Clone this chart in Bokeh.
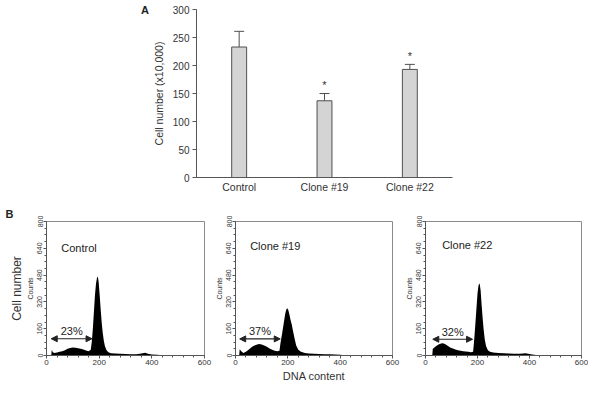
from bokeh.plotting import figure
from bokeh.layouts import column, row
from bokeh.models import (FactorRange, Range1d, LinearAxis, FixedTicker, Label, Arrow, Div, Title,
                          NormalHead, TeeHead, ColumnDataSource, Whisker)
from bokeh.embed import file_html
from bokeh.resources import INLINE
from bokeh.core.properties import value

FONT = "Liberation Sans"

# ---------------- Panel A data ----------------
groups = ["Control", "Clone #19", "Clone #22"]
cell_mean = [233, 137, 193]
cell_err = [28, 13, 9]
significant = [False, True, True]
a_ticks = [0, 50, 100, 150, 200, 250, 300]

# ---------------- Panel B data ----------------
ctrl_dna = [18, 20, 24, 30, 40, 50, 60, 70, 80, 90, 100, 110, 120, 130, 140, 150, 160, 168, 172,
            176, 180, 184, 188, 192, 195, 198, 202, 206, 210, 214, 218, 222, 228, 235, 245, 260,
            280, 300, 320, 340, 355, 365, 375, 385, 400, 420, 440, 450]
ctrl_counts = [0, 35, 20, 15, 18, 22, 26, 32, 40, 45, 48, 46, 44, 40, 36, 30, 26, 35, 80,
               160, 260, 360, 430, 465, 470, 440, 360, 270, 190, 130, 85, 55, 32, 20, 14, 12,
               10, 9, 8, 8, 10, 14, 16, 10, 6, 4, 2, 0]

c19_dna = [14, 16, 22, 30, 40, 50, 60, 70, 80, 90, 100, 110, 120, 130, 140, 150, 160, 168, 172,
           178, 184, 190, 194, 198, 202, 206, 210, 215, 220, 226, 232, 240, 250, 265, 280, 300,
           320, 340, 360, 380, 400, 420, 440]
c19_counts = [0, 38, 25, 15, 22, 35, 48, 58, 64, 68, 66, 60, 52, 42, 34, 28, 25, 28, 75,
              130, 190, 250, 275, 282, 270, 245, 215, 185, 145, 100, 60, 35, 22, 15, 12, 10,
              9, 8, 8, 6, 4, 2, 0]

c22_dna = [26, 28, 32, 40, 50, 60, 66, 75, 85, 95, 105, 115, 125, 135, 145, 155, 165, 175, 183,
           186, 190, 195, 200, 204, 208, 212, 216, 220, 224, 228, 233, 240, 248, 260, 280, 300,
           320, 340, 360, 375, 385, 395, 410, 425, 440, 445]
c22_counts = [0, 40, 45, 55, 65, 72, 73, 68, 58, 48, 42, 36, 32, 28, 26, 24, 22, 20, 22,
              70, 150, 260, 370, 420, 431, 390, 300, 220, 150, 95, 55, 32, 22, 18, 15, 14,
              12, 11, 10, 12, 14, 11, 6, 3, 1, 0]

sample_names = ["Control", "Clone #19", "Clone #22"]
subg1_pct = ["23%", "37%", "32%"]
arrow_start = [18, 16, 28]
arrow_end = [173, 171, 181]
arrow_level = [100, 99, 97]
name_x = [56, 56, 64]
name_y = [643, 653, 657]
hist_xticks = [0, 200, 400, 600]
hist_yticks = [0, 160, 320, 480, 640, 800]

AX = "#555555"
TXT = "#333333"

# ---------------- Panel A ----------------
top = figure(x_range=FactorRange(*groups, range_padding=0), y_range=Range1d(0, 300),
             width=439, height=195, output_backend="svg", toolbar_location=None,
             min_border_left=46, min_border_right=136, min_border_top=9, min_border_bottom=15)
top.outline_line_color = None
top.grid.grid_line_color = None
src = ColumnDataSource(dict(g=groups, m=cell_mean,
                            up=[m + e for m, e in zip(cell_mean, cell_err)]))
top.vbar(x="g", top="m", width=0.175, source=src, fill_color="#d4d4d4",
         line_color="#505050", line_width=1)
top.add_layout(Whisker(source=src, base="g", lower="m", upper="up", lower_head=None,
                       upper_head=TeeHead(size=10, line_color="#505050", line_width=1),
                       line_color="#505050", line_width=1, level="underlay"))
star_g = [g for g, s in zip(groups, significant) if s]
star_y = [m + e + 4 for m, e, s in zip(cell_mean, cell_err, significant) if s]
top.text(x=star_g, y=star_y, text=["*"] * len(star_g), text_align="center",
         text_baseline="bottom", text_font=value(FONT), text_font_size="11px",
         text_color=TXT)
top.yaxis.ticker = FixedTicker(ticks=a_ticks, minor_ticks=[])
top.yaxis.axis_label = "Cell number (x10,000)"
top.yaxis.axis_label_text_font_style = "normal"
top.yaxis.axis_label_text_font = FONT
top.yaxis.axis_label_text_font_size = "10.5px"
top.yaxis.axis_label_text_color = TXT
top.yaxis.axis_label_standoff = 5
top.yaxis.major_tick_out = 4
top.yaxis.major_tick_in = 0
top.yaxis.major_label_standoff = 3
for ax in (top.xaxis[0], top.yaxis[0]):
    ax.axis_line_color = AX
    ax.major_tick_line_color = AX
    ax.major_label_text_font = FONT
    ax.major_label_text_font_size = "10px"
    ax.major_label_text_color = TXT
top.xaxis.major_label_text_font_size = "10.5px"
top.xaxis.major_tick_out = 0
top.xaxis.major_tick_in = 0
top.xaxis.major_label_standoff = 3

label_a = Div(text='<div style="margin-top:3px">A</div>', width=149, height=195, margin=0,
              styles={"font-family": FONT, "font-size": "11px", "font-weight": "bold",
                      "color": "#222", "text-align": "right"})


# ---------------- Panel B ----------------
def hist(i, dna, counts, width, left, right, first=False, mid=False):
    p = figure(x_range=Range1d(0, 600), y_range=Range1d(0, 800), width=width, height=189,
               output_backend="svg", toolbar_location=None,
               min_border_left=left, min_border_right=right, min_border_top=26,
               min_border_bottom=27)
    p.grid.grid_line_color = None
    p.outline_line_color = "#8a8a8a"
    p.varea(x=dna, y1=[0] * len(dna), y2=counts, fill_color="black")
    p.xaxis.ticker = FixedTicker(ticks=hist_xticks, minor_ticks=list(range(0, 601, 40)))
    p.yaxis.ticker = FixedTicker(ticks=hist_yticks, minor_ticks=list(range(0, 801, 40)))
    for ax in (p.xaxis[0], p.yaxis[0]):
        ax.axis_line_color = AX
        ax.major_tick_line_color = AX
        ax.minor_tick_line_color = AX
        ax.major_tick_out = 3
        ax.major_tick_in = 0
        ax.minor_tick_out = 2
        ax.minor_tick_in = 0
        ax.major_label_text_font = FONT
        ax.major_label_text_color = TXT
        ax.major_label_standoff = 1
    p.xaxis.major_label_text_font_size = "8px"
    p.yaxis.major_label_text_font_size = "7px"
    p.yaxis.major_label_orientation = "vertical"
    p.yaxis.axis_label = "Counts"
    p.yaxis.axis_label_text_font = FONT
    p.yaxis.axis_label_text_font_size = "7px"
    p.yaxis.axis_label_text_font_style = "normal"
    p.yaxis.axis_label_text_color = TXT
    p.yaxis.axis_label_standoff = 1
    p.xaxis.axis_label = "DNA content"
    p.xaxis.axis_label_text_font = FONT
    p.xaxis.axis_label_text_font_size = "11px"
    p.xaxis.axis_label_text_font_style = "normal"
    p.xaxis.axis_label_text_color = TXT if mid else "rgba(0,0,0,0)"
    p.xaxis.axis_label_standoff = 2
    if first:
        extra = LinearAxis(ticker=FixedTicker(ticks=[]), axis_label="Cell number",
                           axis_line_color=None, major_tick_out=0, major_tick_in=0,
                           minor_tick_out=0, minor_tick_in=0, major_label_standoff=0,
                           axis_label_standoff=0, axis_label_text_font=FONT,
                           axis_label_text_font_size="12px",
                           axis_label_text_font_style="normal", axis_label_text_color=TXT)
        p.add_layout(extra, "left")
        p.add_layout(Title(text="B", align="left", offset=-41, standoff=3,
                           text_font=FONT, text_font_size="11px", text_font_style="bold",
                           text_color="#222"), "above")
    head = dict(size=6, fill_color="#222", line_color="#222")
    p.add_layout(Arrow(x_start=arrow_start[i], y_start=arrow_level[i], x_end=arrow_end[i],
                       y_end=arrow_level[i], start=NormalHead(**head), end=NormalHead(**head),
                       line_color="#222", line_width=1.2))
    p.add_layout(Label(x=(arrow_start[i] + arrow_end[i]) / 2, y=arrow_level[i] + 45,
                       text=subg1_pct[i], text_font=FONT, text_font_size="11px",
                       text_color="#222", text_align="center", text_baseline="middle"))
    p.add_layout(Label(x=name_x[i], y=name_y[i], text=sample_names[i], text_font=FONT,
                       text_font_size="11px", text_color="#222", text_align="left",
                       text_baseline="middle"))
    return p


h1 = hist(0, ctrl_dna, ctrl_counts, 212, 46, 8, first=True)
h2 = hist(1, c19_dna, c19_counts, 190, 23, 10, mid=True)
h3 = hist(2, c22_dna, c22_counts, 186, 22, 7)

layout = column(row(label_a, top, spacing=0), row(h1, h2, h3, spacing=0), spacing=0)
open("out.html", "w").write(file_html(layout, INLINE))
